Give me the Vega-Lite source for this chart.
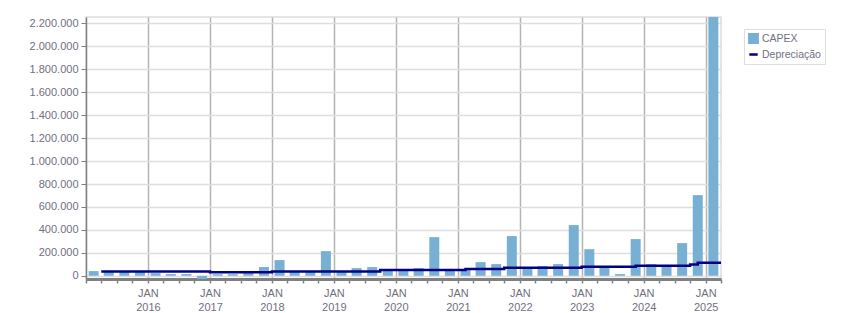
{
  "$schema": "https://vega.github.io/schema/vega-lite/v6.json",
  "width": 635,
  "height": 262,
  "autosize": {"type": "none"},
  "padding": {"left": 86, "top": 17, "right": 130, "bottom": 34},
  "config": {
    "view": {"stroke": "#dddddd", "strokeWidth": 1.5},
    "font": "Liberation Sans",
    "locale": {"number": {"decimal": ",", "thousands": ".", "grouping": [3], "currency": ["R$", ""]}}
  },
  "datasets": {
    "capex": [
      {"date": "2015-02-15", "value": 41000, "series": "CAPEX"},
      {"date": "2015-05-15", "value": 38000, "series": "CAPEX"},
      {"date": "2015-08-15", "value": 38000, "series": "CAPEX"},
      {"date": "2015-11-15", "value": 38000, "series": "CAPEX"},
      {"date": "2016-02-15", "value": 23000, "series": "CAPEX"},
      {"date": "2016-05-15", "value": 15000, "series": "CAPEX"},
      {"date": "2016-08-15", "value": 15000, "series": "CAPEX"},
      {"date": "2016-11-15", "value": -28000, "series": "CAPEX"},
      {"date": "2017-02-15", "value": 14000, "series": "CAPEX"},
      {"date": "2017-05-15", "value": 14000, "series": "CAPEX"},
      {"date": "2017-08-15", "value": 25000, "series": "CAPEX"},
      {"date": "2017-11-15", "value": 76000, "series": "CAPEX"},
      {"date": "2018-02-15", "value": 137000, "series": "CAPEX"},
      {"date": "2018-05-15", "value": 40000, "series": "CAPEX"},
      {"date": "2018-08-15", "value": 40000, "series": "CAPEX"},
      {"date": "2018-11-15", "value": 215000, "series": "CAPEX"},
      {"date": "2019-02-15", "value": 40000, "series": "CAPEX"},
      {"date": "2019-05-15", "value": 67000, "series": "CAPEX"},
      {"date": "2019-08-15", "value": 76000, "series": "CAPEX"},
      {"date": "2019-11-15", "value": 50000, "series": "CAPEX"},
      {"date": "2020-02-15", "value": 45000, "series": "CAPEX"},
      {"date": "2020-05-15", "value": 67000, "series": "CAPEX"},
      {"date": "2020-08-15", "value": 337000, "series": "CAPEX"},
      {"date": "2020-11-15", "value": 50000, "series": "CAPEX"},
      {"date": "2021-02-15", "value": 50000, "series": "CAPEX"},
      {"date": "2021-05-15", "value": 119000, "series": "CAPEX"},
      {"date": "2021-08-15", "value": 102000, "series": "CAPEX"},
      {"date": "2021-11-15", "value": 346000, "series": "CAPEX"},
      {"date": "2022-02-15", "value": 60000, "series": "CAPEX"},
      {"date": "2022-05-15", "value": 85000, "series": "CAPEX"},
      {"date": "2022-08-15", "value": 102000, "series": "CAPEX"},
      {"date": "2022-11-15", "value": 442000, "series": "CAPEX"},
      {"date": "2023-02-15", "value": 232000, "series": "CAPEX"},
      {"date": "2023-05-15", "value": 78000, "series": "CAPEX"},
      {"date": "2023-08-15", "value": 15000, "series": "CAPEX"},
      {"date": "2023-11-15", "value": 320000, "series": "CAPEX"},
      {"date": "2024-02-15", "value": 102000, "series": "CAPEX"},
      {"date": "2024-05-15", "value": 88000, "series": "CAPEX"},
      {"date": "2024-08-15", "value": 285000, "series": "CAPEX"},
      {"date": "2024-11-15", "value": 703000, "series": "CAPEX"},
      {"date": "2025-02-15", "value": 2255000, "series": "CAPEX"}
    ],
    "dep": [
      {"date": "2015-04-01", "value": 38000, "series": "Depreciação"},
      {"date": "2016-01-01", "value": 38000, "series": "Depreciação"},
      {"date": "2017-01-01", "value": 30000, "series": "Depreciação"},
      {"date": "2018-01-01", "value": 38000, "series": "Depreciação"},
      {"date": "2019-01-01", "value": 38000, "series": "Depreciação"},
      {"date": "2019-10-01", "value": 50000, "series": "Depreciação"},
      {"date": "2020-01-01", "value": 50000, "series": "Depreciação"},
      {"date": "2021-02-15", "value": 60000, "series": "Depreciação"},
      {"date": "2021-10-01", "value": 69000, "series": "Depreciação"},
      {"date": "2022-01-01", "value": 69000, "series": "Depreciação"},
      {"date": "2023-01-01", "value": 78000, "series": "Depreciação"},
      {"date": "2023-11-15", "value": 87000, "series": "Depreciação"},
      {"date": "2024-01-01", "value": 87000, "series": "Depreciação"},
      {"date": "2024-10-01", "value": 99000, "series": "Depreciação"},
      {"date": "2024-11-15", "value": 113000, "series": "Depreciação"},
      {"date": "2025-04-01", "value": 113000, "series": "Depreciação"}
    ]
  },
  "encoding": {
    "x": {
      "field": "date",
      "type": "temporal",
      "title": null,
      "scale": {"type": "utc", "padding": 0, "domain": [{"year": 2015, "month": 1, "date": 1, "utc": true}, {"year": 2025, "month": 4, "date": 1, "utc": true}]},
      "axis": {
        "tickCount": {"interval": "month", "step": 3},
        "labelExpr": "utcmonth(datum.value) === 0 && utcyear(datum.value) > 2015 ? ['JAN', utcFormat(datum.value, '%Y')] : ''",
        "labelOverlap": false,
        "labelBound": false,
        "labelFlush": false,
        "labelFont": "Liberation Sans",
        "labelFontSize": 11,
        "labelColor": "#707080",
        "labelLineHeight": 14,
        "labelPadding": 4,
        "domainColor": "#808080",
        "domainWidth": 3,
        "tickColor": "#808080",
        "tickSize": 4,
        "tickWidth": 1.5,
        "grid": true,
        "gridColor": "#b4b4b4",
        "gridWidth": 1.5,
        "gridOpacity": {"condition": {"test": "utcmonth(datum.value) === 0 && utcyear(datum.value) > 2015", "value": 1}, "value": 0}
      }
    },
    "y": {
      "field": "value",
      "type": "quantitative",
      "title": null,
      "scale": {"domain": [-28000, 2256000], "nice": false, "zero": false},
      "axis": {
        "values": [0, 200000, 400000, 600000, 800000, 1000000, 1200000, 1400000, 1600000, 1800000, 2000000, 2200000],
        "format": ",d",
        "labelFont": "Liberation Sans",
        "labelFontSize": 11,
        "labelColor": "#707080",
        "labelPadding": 3,
        "domainColor": "#808080",
        "domainWidth": 1.5,
        "tickColor": "#808080",
        "tickSize": 5,
        "gridColor": "#dedede",
        "gridWidth": 1.5
      }
    },
    "color": {
      "field": "series",
      "type": "nominal",
      "scale": {"domain": ["CAPEX", "Depreciação"], "range": ["#78b0d4", "#000080"]},
      "legend": {
        "title": null,
        "orient": "none",
        "legendX": 658,
        "legendY": 12,
        "strokeColor": "#dddddd",
        "padding": 4,
        "labelFont": "Liberation Sans",
        "labelFontSize": 10.5,
        "labelColor": "#707080",
        "rowPadding": 1,
        "symbolSize": 70,
        "labelOffset": 3,
        "encode": {
          "symbols": {
            "update": {
              "shape": {"signal": "datum.value === 'CAPEX' ? 'square' : 'stroke'"},
              "fill": {"signal": "datum.value === 'CAPEX' ? '#78b0d4' : 'transparent'"},
              "stroke": {"signal": "datum.value === 'CAPEX' ? 'transparent' : '#000080'"},
              "strokeWidth": {"value": 2.5}
            }
          }
        }
      }
    }
  },
  "layer": [
    {
      "data": {"name": "capex"},
      "mark": {"type": "bar", "size": 10}
    },
    {
      "data": {"name": "dep"},
      "mark": {"type": "line", "interpolate": "step-after", "strokeWidth": 2.5}
    }
  ]
}
